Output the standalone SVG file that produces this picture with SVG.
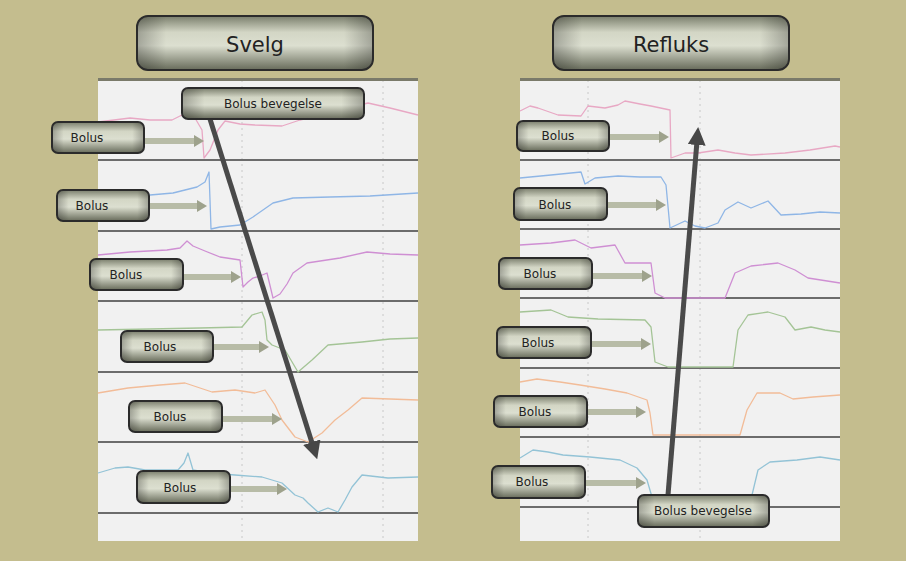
<svg xmlns="http://www.w3.org/2000/svg" width="906" height="561" viewBox="0 0 906 561">
<defs>
<linearGradient id="btn" x1="0" y1="0" x2="0" y2="1">
<stop offset="0" stop-color="#7a7e6c"/>
<stop offset="0.3" stop-color="#d3d6c5"/>
<stop offset="0.55" stop-color="#dcdfd0"/>
<stop offset="1" stop-color="#676b5a"/>
</linearGradient>
<linearGradient id="btnH" x1="0" y1="0" x2="1" y2="0">
<stop offset="0" stop-color="#000" stop-opacity="0.25"/>
<stop offset="0.12" stop-color="#000" stop-opacity="0"/>
<stop offset="0.88" stop-color="#000" stop-opacity="0"/>
<stop offset="1" stop-color="#000" stop-opacity="0.25"/>
</linearGradient>
<marker id="sh" viewBox="0 0 10 12" refX="2" refY="6" markerWidth="10" markerHeight="12" markerUnits="userSpaceOnUse" orient="auto">
<path d="M0,0 L10,6 L0,12 Z" fill="#9ea28c"/>
</marker>
<marker id="bh" viewBox="0 0 18 18" refX="4" refY="9" markerWidth="18" markerHeight="18" markerUnits="userSpaceOnUse" orient="auto">
<path d="M0,0 L18,9 L0,18 Z" fill="#474747"/>
</marker>
</defs>
<style>
.panel{fill:#f1f1f1}
.sep{stroke:#6c6c6c;stroke-width:2}
.top{stroke:#7a7a6a;stroke-width:3}
.grid{stroke:#c8c8c8;stroke-width:1;stroke-dasharray:2 4}
.tr{fill:none;stroke-width:1.3;stroke-linejoin:round}
.b rect.f{fill:url(#btn);stroke:#2b2b2b;stroke-width:2}
.b rect.s{fill:url(#btnH)}
.t{font-family:"DejaVu Sans","Liberation Sans",sans-serif;fill:#222;text-anchor:middle}
.sa{stroke:#b8bca7;stroke-width:6;marker-end:url(#sh)}
.ba{stroke:#4a4a4a;stroke-width:5;marker-end:url(#bh)}
</style>
<rect width="906" height="561" fill="#c4bd8e"/>

<!-- left panel -->
<g id="panel-left">
<rect class="panel" x="98" y="79" width="320" height="462"/>
<line class="grid" x1="242" y1="80" x2="242" y2="540"/>
<line class="grid" x1="383" y1="80" x2="383" y2="540"/>
<line class="top" x1="98" y1="79.5" x2="418" y2="79.5"/>
<line class="sep" x1="98" y1="160" x2="418" y2="160"/>
<line class="sep" x1="98" y1="231" x2="418" y2="231"/>
<line class="sep" x1="98" y1="301" x2="418" y2="301"/>
<line class="sep" x1="98" y1="372" x2="418" y2="372"/>
<line class="sep" x1="98" y1="442" x2="418" y2="442"/>
<line class="sep" x1="98" y1="513" x2="418" y2="513"/>
<polyline class="tr" stroke="#e8a8c4" points="98,122 130,118 150,120 172,120 182,115 195,118 202,130 204,158 210,150 218,130 225,121 240,124 255,125 282,126 300,120 368,103 390,108 418,115"/>
<polyline class="tr" stroke="#8fb6e6" points="98,196 120,195 150,195 173,193 185,190 197,187 205,182 209,172 210,200 211,229 220,227 240,225 253,217 273,203 293,198 330,197 370,196 418,193"/>
<polyline class="tr" stroke="#cf8fd3" points="98,255 130,252 167,250 180,248 187,241 193,246 205,251 220,257 240,260 243,287 248,282 253,278 260,276 267,273 273,298 280,294 287,284 293,273 307,263 340,258 367,252 390,254 418,255"/>
<polyline class="tr" stroke="#a4c496" points="98,330 150,329 200,328 242,327 252,315 262,312 265,320 267,340 272,345 285,350 298,372 312,360 328,345 362,342 390,339 418,338"/>
<polyline class="tr" stroke="#f2bc98" points="98,393 128,388 160,385 185,383 212,392 235,390 255,393 265,390 275,405 282,420 295,437 308,442 322,433 335,420 348,410 362,398 390,399 418,400"/>
<polyline class="tr" stroke="#93c3d6" points="98,473 115,468 128,467 145,470 178,470 184,463 188,453 193,470 210,473 235,475 262,477 282,483 295,495 303,498 308,503 318,512 328,508 338,512 345,500 352,487 362,475 388,478 418,477"/>
</g>

<!-- right panel -->
<g id="panel-right">
<rect class="panel" x="520" y="79" width="320" height="462"/>
<line class="grid" x1="588" y1="80" x2="588" y2="540"/>
<line class="grid" x1="700" y1="80" x2="700" y2="540"/>
<line class="top" x1="520" y1="79.5" x2="840" y2="79.5"/>
<line class="sep" x1="520" y1="160" x2="840" y2="160"/>
<line class="sep" x1="520" y1="229" x2="840" y2="229"/>
<line class="sep" x1="520" y1="298" x2="840" y2="298"/>
<line class="sep" x1="520" y1="368" x2="840" y2="368"/>
<line class="sep" x1="520" y1="437" x2="840" y2="437"/>
<line class="sep" x1="520" y1="507" x2="840" y2="507"/>
<polyline class="tr" stroke="#e8a8c4" points="520,111 530,106 538,108 558,115 581,116 588,106 605,108 618,105 625,101 640,104 651,106 670,110 671,158 685,153 698,153 718,150 735,153 751,155 785,153 810,150 835,146 840,147"/>
<polyline class="tr" stroke="#8fb6e6" points="520,178 551,175 581,172 585,184 595,178 618,176 640,177 661,177 666,185 670,228 685,221 695,226 705,228 718,223 725,210 738,202 751,208 768,201 781,215 801,214 820,212 840,213"/>
<polyline class="tr" stroke="#cf8fd3" points="520,245 551,243 575,240 591,248 615,245 625,263 651,263 655,293 665,298 725,298 735,273 751,266 778,263 795,270 808,278 840,283"/>
<polyline class="tr" stroke="#a4c496" points="520,312 551,310 568,317 598,319 645,320 651,327 655,362 668,367 733,367 738,330 748,315 768,312 785,317 795,330 811,327 825,330 840,332"/>
<polyline class="tr" stroke="#f2bc98" points="520,382 537,379 560,382 580,385 605,389 627,393 647,400 650,413 653,435 740,435 747,410 757,393 780,393 793,399 813,397 840,395"/>
<polyline class="tr" stroke="#93c3d6" points="520,458 533,450 548,452 563,455 590,457 620,460 637,468 647,480 652,497 660,505"/>
<polyline class="tr" stroke="#93c3d6" points="752,495 758,470 770,462 797,460 820,457 840,460"/>
</g>

<!-- connectors -->
<g id="connectors">
<line class="sa" x1="144" y1="141" x2="196" y2="141"/>
<line class="sa" x1="149" y1="206" x2="199" y2="206"/>
<line class="sa" x1="183" y1="277" x2="233" y2="277"/>
<line class="sa" x1="213" y1="347" x2="261" y2="347"/>
<line class="sa" x1="222" y1="419" x2="274" y2="419"/>
<line class="sa" x1="230" y1="489" x2="279" y2="489"/>
<line class="sa" x1="609" y1="137" x2="661" y2="137"/>
<line class="sa" x1="607" y1="205" x2="658" y2="205"/>
<line class="sa" x1="592" y1="276" x2="644" y2="276"/>
<line class="sa" x1="591" y1="344" x2="643" y2="344"/>
<line class="sa" x1="587" y1="412" x2="638" y2="412"/>
<line class="sa" x1="585" y1="483" x2="638" y2="483"/>
<line class="ba" x1="210" y1="119" x2="313" y2="446"/>
<line class="ba" x1="668" y1="495" x2="697" y2="141"/>
</g>

<!-- titles -->
<g id="title-svelg" class="b">
<rect class="f" x="137" y="16" width="236" height="54" rx="11"/>
<rect class="s" x="138" y="17" width="234" height="52" rx="10"/>
<text class="t" x="255" y="52" font-size="21">Svelg</text>
</g>
<g id="title-refluks" class="b">
<rect class="f" x="553" y="16" width="236" height="54" rx="11"/>
<rect class="s" x="554" y="17" width="234" height="52" rx="10"/>
<text class="t" x="671" y="52" font-size="21">Refluks</text>
</g>

<!-- left bolus nodes -->
<g id="l-bolus-bevegelse" class="b">
<rect class="f" x="182" y="88" width="182" height="31" rx="6"/>
<rect class="s" x="183" y="89" width="180" height="29" rx="5"/>
<text class="t" x="273" y="108" font-size="12">Bolus bevegelse</text>
</g>
<g id="l-bolus-1" class="b">
<rect class="f" x="52" y="122" width="92" height="31" rx="6"/>
<rect class="s" x="53" y="123" width="90" height="29" rx="5"/>
<text class="t" x="87" y="142" font-size="12">Bolus</text>
</g>
<g id="l-bolus-2" class="b">
<rect class="f" x="57" y="190" width="92" height="31" rx="6"/>
<rect class="s" x="58" y="191" width="90" height="29" rx="5"/>
<text class="t" x="92" y="210" font-size="12">Bolus</text>
</g>
<g id="l-bolus-3" class="b">
<rect class="f" x="90" y="259" width="93" height="31" rx="6"/>
<rect class="s" x="91" y="260" width="91" height="29" rx="5"/>
<text class="t" x="126" y="279" font-size="12">Bolus</text>
</g>
<g id="l-bolus-4" class="b">
<rect class="f" x="121" y="331" width="92" height="31" rx="6"/>
<rect class="s" x="122" y="332" width="90" height="29" rx="5"/>
<text class="t" x="160" y="351" font-size="12">Bolus</text>
</g>
<g id="l-bolus-5" class="b">
<rect class="f" x="129" y="401" width="93" height="31" rx="6"/>
<rect class="s" x="130" y="402" width="91" height="29" rx="5"/>
<text class="t" x="170" y="421" font-size="12">Bolus</text>
</g>
<g id="l-bolus-6" class="b">
<rect class="f" x="137" y="471" width="93" height="32" rx="6"/>
<rect class="s" x="138" y="472" width="91" height="30" rx="5"/>
<text class="t" x="180" y="492" font-size="12">Bolus</text>
</g>

<!-- right bolus nodes -->
<g id="r-bolus-1" class="b">
<rect class="f" x="517" y="121" width="92" height="30" rx="6"/>
<rect class="s" x="518" y="122" width="90" height="28" rx="5"/>
<text class="t" x="558" y="140" font-size="12">Bolus</text>
</g>
<g id="r-bolus-2" class="b">
<rect class="f" x="514" y="188" width="93" height="32" rx="6"/>
<rect class="s" x="515" y="189" width="91" height="30" rx="5"/>
<text class="t" x="555" y="209" font-size="12">Bolus</text>
</g>
<g id="r-bolus-3" class="b">
<rect class="f" x="499" y="258" width="93" height="31" rx="6"/>
<rect class="s" x="500" y="259" width="91" height="29" rx="5"/>
<text class="t" x="540" y="278" font-size="12">Bolus</text>
</g>
<g id="r-bolus-4" class="b">
<rect class="f" x="497" y="327" width="94" height="31" rx="6"/>
<rect class="s" x="498" y="328" width="92" height="29" rx="5"/>
<text class="t" x="538" y="347" font-size="12">Bolus</text>
</g>
<g id="r-bolus-5" class="b">
<rect class="f" x="494" y="396" width="93" height="31" rx="6"/>
<rect class="s" x="495" y="397" width="91" height="29" rx="5"/>
<text class="t" x="535" y="416" font-size="12">Bolus</text>
</g>
<g id="r-bolus-6" class="b">
<rect class="f" x="492" y="466" width="93" height="32" rx="6"/>
<rect class="s" x="493" y="467" width="91" height="30" rx="5"/>
<text class="t" x="532" y="486" font-size="12">Bolus</text>
</g>
<g id="r-bolus-bevegelse" class="b">
<rect class="f" x="638" y="495" width="131" height="32" rx="6"/>
<rect class="s" x="639" y="496" width="129" height="30" rx="5"/>
<text class="t" x="703" y="515" font-size="12">Bolus bevegelse</text>
</g>
</svg>
